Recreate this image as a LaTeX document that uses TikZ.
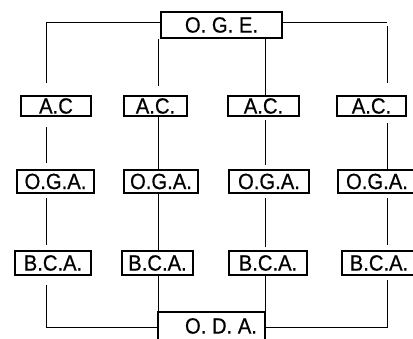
\documentclass[tikz,border=0pt]{standalone}
\usepackage{fontspec}
\setmainfont{Liberation Sans}
\newfontfamily\labelfont{Liberation Sans}[FakeBold=0.6,FakeStretch=0.92]
\usetikzlibrary{calc}
\begin{document}
\begin{tikzpicture}[x=1pt,y=-1pt,
  box/.style={draw,line width=1.1pt,inner sep=0pt,font=\labelfont\fontsize{22}{22}\selectfont},
  lbl/.style={inner sep=0pt,font=\labelfont\fontsize{22}{22}\selectfont},
  conn/.style={line width=0.9pt}]
\useasboundingbox (0,0) rectangle (413,338);
\clip (0,0) rectangle (413,338);
\fill[white] (0,0) rectangle (413,338);
% top and bottom boxes
\node[box,minimum width=121pt,minimum height=26pt] (oge) at (221.5,25) {O. G. E.};
\node[box,minimum width=107pt,minimum height=40pt] (oda) at (211.5,332) {};
\node[lbl] (odat) at (221,326) {O. D. A.};
% row A.C.
\node[box,minimum width=70pt,minimum height=20pt] (ac1) at (56,106) {A.C};
\node[box,minimum width=63pt,minimum height=20pt] (ac2) at (155.5,106) {A.C.};
\node[box,minimum width=71pt,minimum height=20pt] (ac3) at (263.5,106) {A.C.};
\node[box,minimum width=69pt,minimum height=20pt] (ac4) at (371.5,106) {A.C.};
% row O.G.A.
\node[box,minimum width=77pt,minimum height=23pt] (oga1) at (55.5,181.5) {O.G.A.};
\node[box,minimum width=74pt,minimum height=23pt] (oga2) at (161,181.5) {O.G.A.};
\node[box,minimum width=80pt,minimum height=23pt] (oga3) at (269,181.5) {O.G.A.};
\node[box,minimum width=78pt,minimum height=23pt] (oga4) at (377,181.5) {O.G.A.};
% row B.C.A.
\node[box,minimum width=76pt,minimum height=24pt] (bca1) at (53,263) {B.C.A.};
\node[box,minimum width=71pt,minimum height=24pt] (bca2) at (157.5,263) {B.C.A.};
\node[box,minimum width=78pt,minimum height=24pt] (bca3) at (268,263) {B.C.A.};
\node[box,minimum width=74pt,minimum height=24pt] (bca4) at (379,263) {B.C.A.};
% column coordinates
\coordinate (k1) at (46,22);
\coordinate (k2) at (158,0);
\coordinate (k3) at (265,0);
\coordinate (k4) at (387,22);
% top connectors
\draw[conn] (oge.west |- k1) -- (k1) -- (46,83);
\draw[conn] (oge.east |- k4) -- (k4);
\draw[conn] (387,26) -- (387,83);
\draw[conn] (oge.south -| k2) -- (158,86);
\draw[conn] (oge.south -| k3) -- (ac3.north -| k3);
% A.C. to O.G.A.
\draw[conn] (46,127) -- (46,163);
\draw[conn] (ac2.south -| k2) -- (oga2.north -| k2);
\draw[conn] (265,120) -- (265,165);
\draw[conn] (387,123) -- (oga4.north -| k4);
% O.G.A. to B.C.A.
\draw[conn] (46,198) -- (46,245);
\draw[conn] (oga2.south -| k2) -- (bca2.north -| k2);
\draw[conn] (265,198) -- (265,247);
\draw[conn] (387,198) -- (387,245);
% B.C.A. to O.D.A.
\draw[conn] (46,285) -- (46,327) -- (oda.west |- 0,327);
\draw[conn] (bca2.south -| k2) -- (oda.north -| k2);
\draw[conn] (bca3.south -| k3) -- (oda.north -| k3);
\draw[conn] (387,280) -- (387,327) -- (oda.east |- 0,327);
\end{tikzpicture}
\end{document}
